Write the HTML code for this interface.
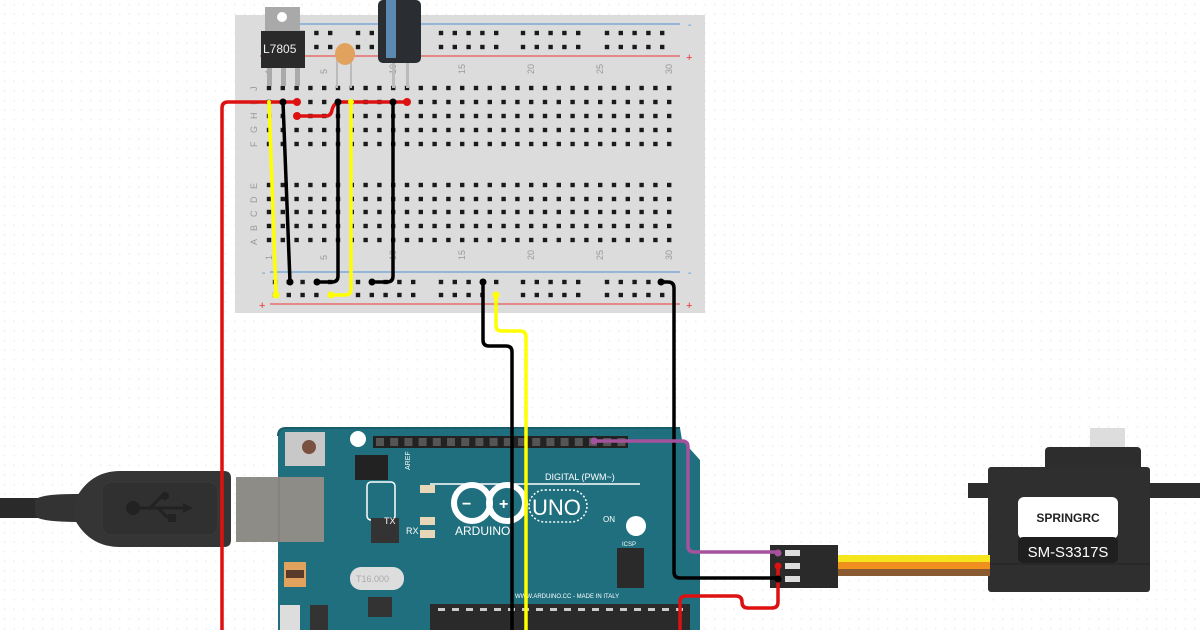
<!DOCTYPE html>
<html><head><meta charset="utf-8"><style>
html,body{margin:0;padding:0;width:1200px;height:630px;overflow:hidden;background:#fff}
svg{display:block}
text{font-family:"Liberation Sans",sans-serif}
</style></head><body>
<svg id="s" width="1200" height="630" viewBox="0 0 1200 630" xmlns="http://www.w3.org/2000/svg">
<defs>
<pattern id="grid" width="9.6" height="9.6" patternUnits="userSpaceOnUse"><rect x="4" y="4" width="1.2" height="1.2" fill="#e2e2e2"/></pattern>
</defs>
<rect width="1200" height="630" fill="url(#grid)"/>
<!-- breadboard -->
<rect x="235" y="15" width="470" height="298" fill="#dcdcdc"/>
<line x1="265" y1="24" x2="680" y2="24" stroke="#4a8fd8" stroke-width="1"/>
<line x1="260" y1="56" x2="680" y2="56" stroke="#e33" stroke-width="1"/>
<line x1="270" y1="272" x2="680" y2="272" stroke="#4a8fd8" stroke-width="1"/>
<line x1="270" y1="304" x2="680" y2="304" stroke="#e33" stroke-width="1"/>
<text x="688" y="28" font-size="10" fill="#4a8fd8">-</text>
<text x="686" y="61" font-size="11" fill="#e33">+</text>
<text x="688" y="276" font-size="10" fill="#4a8fd8">-</text>
<text x="686" y="309" font-size="11" fill="#e33">+</text>
<text x="259" y="309" font-size="11" fill="#e33">+</text>
<text x="262" y="276" font-size="10" fill="#4a8fd8">-</text>
<g id="holes" fill="#1a1a1a"></g>
<g font-size="9" fill="#999" id="labels"></g>
<!-- regulator -->
<rect x="265" y="7" width="35" height="25" fill="#a9a9a9"/>
<circle cx="282" cy="17" r="5" fill="#fff"/>
<rect x="261" y="31" width="44" height="37" fill="#2a2a2a"/>
<text x="263" y="53" font-size="12" fill="#eee" font-family="Liberation Mono">L7805</text>
<g fill="#aaa"><rect x="267" y="68" width="5" height="18"/><rect x="281" y="68" width="5" height="18"/><rect x="295" y="68" width="5" height="18"/></g>
<!-- ceramic cap -->
<rect x="336" y="58" width="2" height="30" fill="#bbb"/><rect x="350" y="58" width="2" height="30" fill="#bbb"/>
<ellipse cx="345" cy="54" rx="10" ry="11" fill="#e0a25c"/>
<!-- electrolytic -->
<rect x="392" y="58" width="3" height="30" fill="#bbb"/><rect x="406" y="58" width="3" height="30" fill="#bbb"/>
<rect x="378" y="0" width="43" height="63" rx="5" fill="#2a2d31"/>
<rect x="386" y="0" width="10" height="58" fill="#5b89b0"/>
<!-- arduino -->
<path d="M278 436 q0 -8 8 -8 H680 L682 440 L700 460 V630 H278 Z" fill="#1f6f7f"/>
<path d="M278 436 q0 -8 8 -8 H680" fill="none" stroke="#195d6a" stroke-width="2"/>
<rect x="373" y="436" width="255" height="12" fill="#222"/>
<g fill="#555" id="hdr"></g>
<circle cx="358" cy="439" r="8" fill="#fff"/>
<circle cx="636" cy="526" r="10" fill="#fff"/>
<rect x="285" y="432" width="40" height="34" fill="#c8c8c8"/>
<circle cx="309" cy="447" r="7" fill="#7a5040"/>
<rect x="355" y="455" width="33" height="25" fill="#222"/>
<rect x="367" y="482" width="28" height="38" rx="4" fill="none" stroke="#fff" stroke-width="1.5"/>
<rect x="371" y="518" width="28" height="25" fill="#333"/>
<text x="384" y="524" font-size="9" fill="#fff" font-family="Liberation Mono">TX</text>
<text x="406" y="534" font-size="9" fill="#fff" font-family="Liberation Mono">RX</text>
<rect x="420" y="485" width="15" height="8" fill="#e8d6b8"/>
<rect x="420" y="517" width="15" height="8" fill="#e8d6b8"/>
<rect x="420" y="530" width="15" height="8" fill="#e8d6b8"/>
<line x1="430" y1="484" x2="640" y2="484" stroke="#fff" stroke-width="1.5"/>
<text x="545" y="480" font-size="9" fill="#fff" font-family="Liberation Mono">DIGITAL (PWM~)</text>
<circle cx="472" cy="503" r="18" fill="none" stroke="#fff" stroke-width="6"/>
<circle cx="507" cy="503" r="18" fill="none" stroke="#fff" stroke-width="6"/>
<text x="462" y="509" font-size="16" fill="#fff" font-weight="bold">−</text>
<text x="499" y="509" font-size="16" fill="#fff" font-weight="bold">+</text>
<text x="455" y="535" font-size="12" fill="#fff" font-family="Liberation Mono">ARDUINO</text>
<text x="532" y="515" font-size="22" fill="#fff">UNO</text>
<rect x="529" y="490" width="58" height="32" rx="16" fill="none" stroke="#fff" stroke-width="1.5" stroke-dasharray="2 2"/>
<text x="603" y="522" font-size="8" fill="#fff">ON</text>
<text x="515" y="598" font-size="6" fill="#fff">WWW.ARDUINO.CC - MADE IN ITALY</text>
<rect x="350" y="567" width="54" height="23" rx="11" fill="#ddd"/>
<text x="356" y="582" font-size="9" fill="#aaa">T16.000</text>
<rect x="284" y="562" width="22" height="25" fill="#e0a25c"/>
<rect x="286" y="570" width="18" height="8" fill="#5a3a2a"/>
<rect x="430" y="604" width="260" height="26" fill="#2a2a2a"/>
<g fill="#ccc" id="dip"></g>
<rect x="617" y="548" width="27" height="40" fill="#2a2a2a"/>
<text x="622" y="546" font-size="6" fill="#fff">ICSP</text>
<rect x="368" y="597" width="24" height="20" fill="#333"/>
<rect x="280" y="605" width="20" height="25" fill="#ddd"/>
<rect x="310" y="605" width="18" height="25" fill="#333"/>
<text font-size="7" fill="#fff" font-family="Liberation Mono" transform="translate(410,470) rotate(-90)">AREF</text>
<!-- USB -->
<rect x="0" y="498" width="45" height="20" fill="#2a2a2a"/>
<path d="M35 500 q5 -6 40 -6 L80 494 L80 522 Q40 522 35 516 Z" fill="#333"/>
<path d="M75 500 Q90 471 120 471 H224 q7 0 7 7 V540 q0 7 -7 7 H120 Q90 547 75 520 Z" fill="#353535"/>
<rect x="102" y="482" width="116" height="53" rx="10" fill="#303030" stroke="#3a3a3a"/>
<circle cx="133" cy="508" r="7" fill="#222"/>
<path d="M133 508 H190 M150 508 L162 496 H165 M158 508 L168 518" stroke="#222" stroke-width="3" fill="none"/>
<polygon points="183,503 193,508 183,513" fill="#222"/>
<circle cx="165" cy="496" r="4" fill="#222"/><rect x="168" y="514" width="8" height="8" fill="#222"/>
<rect x="236" y="477" width="88" height="65" fill="#8d8c87"/>
<line x1="279" y1="477" x2="279" y2="542" stroke="#7a7a76"/>
<!-- servo -->
<rect x="1090" y="428" width="35" height="22" fill="#ddd"/>
<rect x="1045" y="447" width="96" height="25" rx="4" fill="#2d2d2d"/>
<rect x="968" y="483" width="232" height="15" fill="#2d2d2d"/>
<rect x="988" y="467" width="162" height="125" rx="3" fill="#2f2f2f"/>
<line x1="988" y1="564" x2="1150" y2="564" stroke="#222"/>
<rect x="1018" y="497" width="100" height="42" rx="6" fill="#fff"/>
<text x="1068" y="522" font-size="12" font-weight="bold" fill="#222" text-anchor="middle" font-family="Liberation Serif">SPRINGRC</text>
<rect x="1018" y="537" width="100" height="26" rx="5" fill="#1f1f1f"/>
<text x="1068" y="557" font-size="15" fill="#fff" text-anchor="middle">SM-S3317S</text>
<rect x="838" y="555" width="152" height="7" fill="#f5e51c"/>
<rect x="838" y="562" width="152" height="7" fill="#f0901e"/>
<rect x="838" y="569" width="152" height="7" fill="#8a5a30"/>
<rect x="770" y="545" width="68" height="43" fill="#2a2a2a"/>
<g fill="#ddd"><rect x="785" y="550" width="15" height="6"/><rect x="785" y="563" width="15" height="6"/><rect x="785" y="576" width="15" height="6"/></g>
<!-- wires -->
<g fill="none" stroke-width="3.5" stroke-linecap="round" stroke-linejoin="round">
<path d="M222 630 V108 q0 -6 6 -6 H297" stroke="#d11"/>
<path d="M297 116 H326 q5 0 6 -6 q2 -8 9 -8 H401 q6 0 6 0" stroke="#d11"/>
<path d="M269 102 L276 295" stroke="#ff0"/>
<path d="M283 102 L290 282" stroke="#000"/>
<path d="M338 102 V276 q0 6 -6 6 H317" stroke="#000"/>
<path d="M351 102 V289 q0 6 -6 6 H331" stroke="#ff0"/>
<path d="M393 102 V276 q0 6 -6 6 H372" stroke="#000"/>
<path d="M483 282 V340 q0 6 6 6 H506 q6 0 6 6 V630" stroke="#000"/>
<path d="M496 295 V326 q0 5 6 5 H520 q6 0 6 6 V630" stroke="#ff0"/>
<path d="M661 282 H668 q6 0 6 6 V572 q0 6 6 6 H778" stroke="#000"/>
<path d="M594 441 H682 q6 0 6 6 V546 q0 6 6 6 H778" stroke="#a5529e"/>
<path d="M680 630 V602 q0 -6 6 -6 H736 q6 0 6 6 q0 6 6 6 H772 q6 0 6 -6 V568" stroke="#d11"/>
</g>
<g>
<circle cx="297" cy="102" r="4" fill="#d11"/><circle cx="297" cy="116" r="4" fill="#d11"/><circle cx="407" cy="102" r="4" fill="#d11"/>
<circle cx="283" cy="102" r="3.5" fill="#000"/><circle cx="338" cy="102" r="3.5" fill="#000"/><circle cx="393" cy="102" r="3.5" fill="#000"/>
<circle cx="290" cy="282" r="3.5" fill="#000"/><circle cx="317" cy="282" r="3.5" fill="#000"/><circle cx="372" cy="282" r="3.5" fill="#000"/>
<circle cx="483" cy="282" r="3.5" fill="#000"/><circle cx="661" cy="282" r="3.5" fill="#000"/>
<circle cx="276" cy="295" r="3.5" fill="#ff0"/><circle cx="331" cy="295" r="3.5" fill="#ff0"/><circle cx="496" cy="295" r="3.5" fill="#ff0"/>
<circle cx="269" cy="102" r="2" fill="#ff0"/><circle cx="351" cy="102" r="3" fill="#ff0"/>
<circle cx="594" cy="441" r="3.5" fill="#a5529e"/><circle cx="778" cy="553" r="3.5" fill="#a5529e"/>
<circle cx="778" cy="566" r="3.5" fill="#d11"/><circle cx="778" cy="579" r="3.5" fill="#000"/>
</g>
</svg>
<script>
var NS="http://www.w3.org/2000/svg",h=document.getElementById("holes"),lb=document.getElementById("labels");
function sq(x,y){var r=document.createElementNS(NS,"rect");r.setAttribute("x",x-2.2);r.setAttribute("y",y-2.2);r.setAttribute("width",4.4);r.setAttribute("height",4.4);h.appendChild(r);}
var cx=function(n){return 269+(n-1)*13.8;};
[88,102,116,130,144,185,199,212,226,240].forEach(function(y){for(var n=1;n<=30;n++)sq(cx(n),y);});
[275,358,441,523,607].forEach(function(s){for(var i=0;i<5;i++){[33,47,282,295].forEach(function(y){sq(s+i*13.8,y);});}});
[[1,"1"],[5,"5"],[10,"10"],[15,"15"],[20,"20"],[25,"25"],[30,"30"]].forEach(function(p){[74,260].forEach(function(y){var t=document.createElementNS(NS,"text");t.setAttribute("transform","translate("+(cx(p[0])+3)+","+y+") rotate(-90)");t.textContent=p[1];lb.appendChild(t);});});
"JIHGF".split("").forEach(function(c,i){var t=document.createElementNS(NS,"text");t.setAttribute("transform","translate(257,"+(91+i*14)+") rotate(-90)");t.textContent=c;lb.appendChild(t);});
"EDCBA".split("").forEach(function(c,i){var t=document.createElementNS(NS,"text");t.setAttribute("transform","translate(257,"+(189+i*14)+") rotate(-90)");t.textContent=c;lb.appendChild(t);});
var hd=document.getElementById("hdr");for(var x=376;x<626;x+=14.2){var r=document.createElementNS(NS,"rect");r.setAttribute("x",x);r.setAttribute("y",438);r.setAttribute("width",8);r.setAttribute("height",8);hd.appendChild(r);}
var dp=document.getElementById("dip");for(var x=438;x<685;x+=14){var r=document.createElementNS(NS,"rect");r.setAttribute("x",x);r.setAttribute("y",608);r.setAttribute("width",7);r.setAttribute("height",3);dp.appendChild(r);}
</script>
</body></html>
